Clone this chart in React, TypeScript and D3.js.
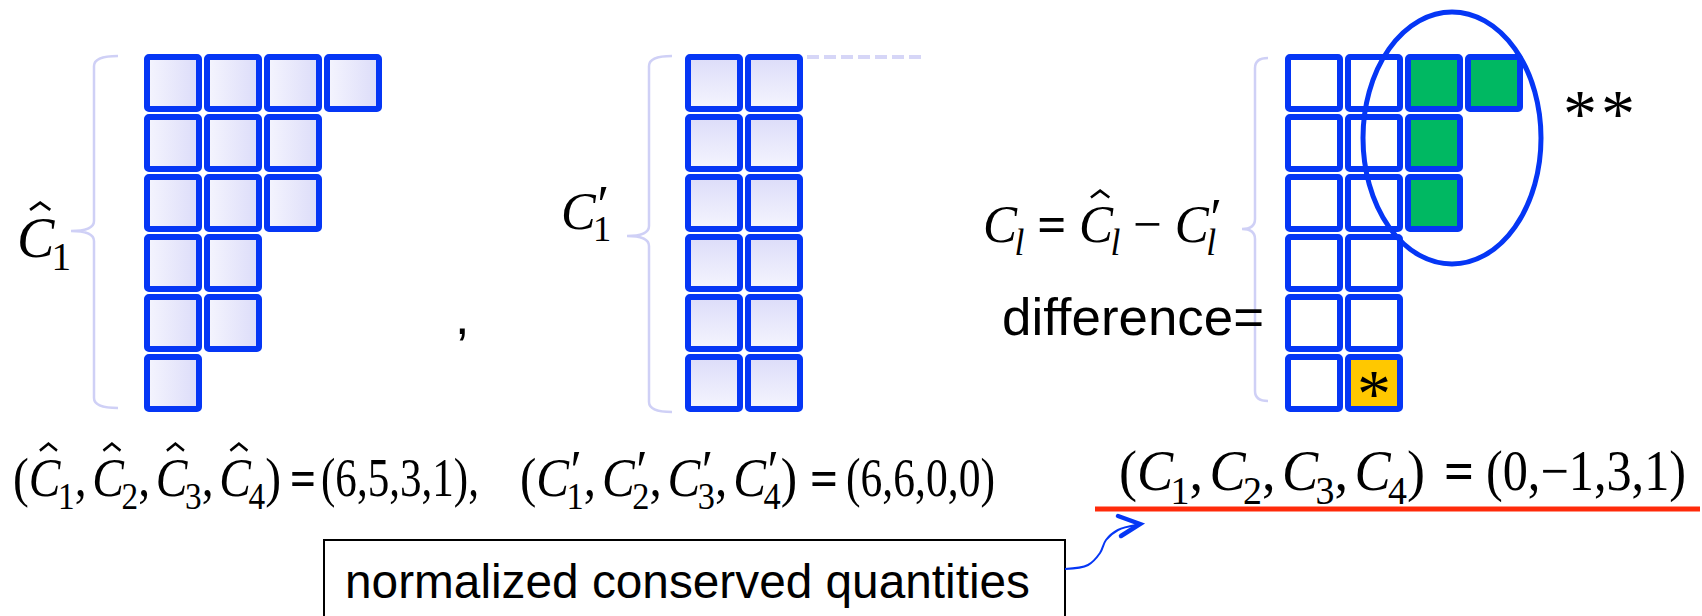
import React, { useEffect, useRef } from "react";
import * as d3 from "d3";

const W = 1702;
const H = 616;

// column lengths of the diagrams
const hatC = [6, 5, 3, 1];
const primeC = [6, 6, 0, 0];
const diffC = [0, -1, 3, 1];
const nRows = 6;
const nCols = 4;

const boxLabel = "normalized conserved quantities";
const diffLabel = "difference=";

const BLUE = "#0536f5";
const GREEN = "#00b862";
const YELLOW = "#ffc800";
const BRACE = "#cfd0f6";
const SERIF = "'Liberation Serif', 'Times New Roman', serif";
const SANS = "'Liberation Sans', Arial, sans-serif";

type Tok = {
  t: string;
  it?: boolean;
  hat?: boolean;
  prime?: boolean;
  sub?: string;
  subIt?: boolean;
  bold?: boolean;
  gap?: number;
};

function fmtVal(v: number) {
  return v < 0 ? "\u2212" + Math.abs(v) : String(v);
}

export default function App() {
  const ref = useRef<SVGSVGElement>(null);

  useEffect(() => {
    const svg = d3.select(ref.current as SVGSVGElement);
    svg.selectAll("*").remove();
    const defs = svg.append("defs");

    const gh = defs.append("linearGradient").attr("id", "gradH").attr("x1", 0).attr("y1", 0).attr("x2", 1).attr("y2", 0);
    gh.append("stop").attr("offset", 0).attr("stop-color", "#f5f5fe");
    gh.append("stop").attr("offset", 1).attr("stop-color", "#dcdcf9");
    const gv = defs.append("linearGradient").attr("id", "gradV").attr("x1", 0).attr("y1", 0).attr("x2", 0).attr("y2", 1);
    gv.append("stop").attr("offset", 0).attr("stop-color", "#dcdcf9");
    gv.append("stop").attr("offset", 1).attr("stop-color", "#f5f5fe");

    const rowY = d3.scaleLinear().domain([0, nRows]).range([54, 54 + 60 * nRows]);
    const OUT = 58;
    const SW = 6;

    // ---- braces
    function brace(xv: number, xEnd: number, xTip: number, top: number, mid: number, bottom: number) {
      const r = 10;
      const p = d3.path();
      p.moveTo(xEnd, top);
      p.quadraticCurveTo(xv, top, xv, top + r);
      p.lineTo(xv, mid - r);
      p.quadraticCurveTo(xv, mid, xTip, mid);
      p.quadraticCurveTo(xv, mid, xv, mid + r);
      p.lineTo(xv, bottom - r);
      p.quadraticCurveTo(xv, bottom, xEnd, bottom);
      svg.append("path").attr("d", p.toString()).attr("fill", "none").attr("stroke", BRACE).attr("stroke-width", 2.5);
    }
    brace(94, 118, 71, 56, 231, 408);
    brace(649, 672, 627, 56, 236, 412);
    brace(1255, 1268, 1242, 58, 229, 401);

    // ---- tableaux
    function tableau(left: number, cells: { c: number; r: number; fill: string }[]) {
      const colX = d3.scaleLinear().domain([0, nCols]).range([left, left + 60 * nCols]);
      svg
        .append("g")
        .selectAll("rect")
        .data(cells)
        .join("rect")
        .attr("x", (d) => colX(d.c) + SW / 2)
        .attr("y", (d) => rowY(d.r) + SW / 2)
        .attr("width", OUT - SW)
        .attr("height", OUT - SW)
        .attr("rx", 2)
        .attr("fill", (d) => d.fill)
        .attr("stroke", BLUE)
        .attr("stroke-width", SW);
      return colX;
    }

    const cells1: { c: number; r: number; fill: string }[] = [];
    hatC.forEach((len, c) => d3.range(len).forEach((r) => cells1.push({ c, r, fill: "url(#gradH)" })));
    tableau(144, cells1);

    const cells2: { c: number; r: number; fill: string }[] = [];
    primeC.forEach((len, c) => d3.range(len).forEach((r) => cells2.push({ c, r, fill: "url(#gradV)" })));
    const colX2 = tableau(685, cells2);
    svg
      .append("line")
      .attr("x1", colX2(2) + 2)
      .attr("x2", colX2(4))
      .attr("y1", 57)
      .attr("y2", 57)
      .attr("stroke", "#d6d6f7")
      .attr("stroke-width", 4)
      .attr("stroke-dasharray", "12 5");

    const cells3: { c: number; r: number; fill: string }[] = [];
    hatC.forEach((h, c) => {
      const p = primeC[c];
      d3.range(Math.max(h, p)).forEach((r) => {
        const fill = r < Math.min(h, p) ? "#ffffff" : h > p ? GREEN : YELLOW;
        cells3.push({ c, r, fill });
      });
    });
    const colX3 = tableau(1285, cells3);

    // asterisk in the negative cell
    cells3
      .filter((d) => d.fill === YELLOW)
      .forEach((d) => {
        svg
          .append("text")
          .attr("x", colX3(d.c) + OUT / 2)
          .attr("y", rowY(d.r) + OUT / 2 + 33)
          .attr("text-anchor", "middle")
          .attr("font-family", SERIF)
          .attr("font-size", 68)
          .attr("fill", "#000")
          .text("*");
      });

    // ellipse around positive excess
    svg
      .append("ellipse")
      .attr("cx", 1452)
      .attr("cy", 138)
      .attr("rx", 89)
      .attr("ry", 126)
      .attr("fill", "none")
      .attr("stroke", BLUE)
      .attr("stroke-width", 5);

    svg
      .append("text")
      .attr("x", 1563)
      .attr("y", 136)
      .attr("font-family", SERIF)
      .attr("font-size", 68)
      .attr("letter-spacing", 4)
      .text("**");

    // ---- formula engine
    function formula(toks: Tok[], x0: number, y: number, fs: number, target?: number) {
      const g = svg.append("g");
      let x = x0;
      for (const tok of toks) {
        const t = g
          .append("text")
          .attr("x", x)
          .attr("y", y)
          .attr("font-family", SERIF)
          .attr("font-size", fs)
          .attr("font-style", tok.it ? "italic" : "normal")
          .attr("font-weight", tok.bold ? "bold" : "normal")
          .style("white-space", "pre")
          .text(tok.t);
        const w = (t.node() as SVGTextElement).getComputedTextLength();
        if (tok.hat) {
          const cx = x + w * 0.62;
          const top = y - fs * 0.97;
          const hw = fs * 0.18;
          const hh = fs * 0.13;
          g.append("path")
            .attr("d", `M${cx - hw},${top + hh} L${cx},${top} L${cx + hw},${top + hh}`)
            .attr("fill", "none")
            .attr("stroke", "#000")
            .attr("stroke-width", fs * 0.05)
            .attr("stroke-linejoin", "miter");
        }
        const nx = x + w;
        let adv = 0;
        if (tok.prime) {
          const px = nx + fs * 0.03;
          const p = g
            .append("text")
            .attr("x", px)
            .attr("y", y - fs * 0.12)
            .attr("font-family", SERIF)
            .attr("font-size", fs * 1.05)
            .text("\u2032");
          adv = Math.max(adv, (p.node() as SVGTextElement).getComputedTextLength() + fs * 0.03);
        }
        if (tok.sub) {
          const tuck = fs * 0.05;
          const s = g
            .append("text")
            .attr("x", nx - tuck)
            .attr("y", y + fs * 0.24)
            .attr("font-family", SERIF)
            .attr("font-size", fs * 0.7)
            .attr("font-style", tok.subIt ? "italic" : "normal")
            .text(tok.sub);
          adv = Math.max(adv, (s.node() as SVGTextElement).getComputedTextLength() - tuck);
        }
        x = nx + adv + (tok.gap || 0) * fs;
      }
      if (target) {
        const s = target / (x - x0);
        g.attr("transform", `translate(${x0},0) scale(${s},1) translate(${-x0},0)`);
      }
    }

    function plain(str: string, x: number, y: number, fs: number, width?: number, bold?: boolean) {
      const t = svg
        .append("text")
        .attr("x", x)
        .attr("y", y)
        .attr("font-family", SERIF)
        .attr("font-size", fs)
        .attr("font-weight", bold ? "bold" : "normal")
        .text(str);
      if (width) t.attr("textLength", width).attr("lengthAdjust", "spacingAndGlyphs");
    }

    // labels
    formula([{ t: "C", it: true, hat: true, sub: "1" }], 17, 257, 56);
    formula([{ t: "C", it: true, prime: true, sub: "1" }], 561, 229, 52);
    formula(
      [
        { t: "C", it: true, sub: "l", subIt: true },
        { t: " = ", bold: true },
        { t: "C", it: true, hat: true, sub: "l", subIt: true },
        { t: " \u2212 " },
        { t: "C", it: true, prime: true, sub: "l", subIt: true },
      ],
      983,
      242,
      53,
      239
    );

    svg
      .append("text")
      .attr("x", 1002)
      .attr("y", 335)
      .attr("font-family", SANS)
      .attr("font-size", 52)
      .attr("textLength", 262)
      .attr("lengthAdjust", "spacingAndGlyphs")
      .text(diffLabel);

    svg.append("text").attr("x", 455).attr("y", 334).attr("font-family", SANS).attr("font-size", 52).text(",");

    // tuples
    const tupleToks = (kind: "hat" | "prime" | "plain") => {
      const toks: Tok[] = [{ t: "(" }];
      d3.range(nCols).forEach((i) => {
        toks.push({ t: "C", it: true, hat: kind === "hat", prime: kind === "prime", sub: String(i + 1) });
        if (i < nCols - 1) toks.push({ t: ",", gap: 0.12 });
      });
      toks.push({ t: ")" });
      return toks;
    };
    // (Ĉ1..Ĉ4) = (6,5,3,1),
    formula(tupleToks("hat"), 13, 496, 54, 268);
    plain("=", 290, 496, 52, 26, true);
    plain("(" + hatC.map(fmtVal).join(",") + "),", 321, 496, 54, 158);
    // (C'1..C'4) = (6,6,0,0)
    formula(tupleToks("prime"), 520, 496, 54, 277);
    plain("=", 810, 496, 52, 28, true);
    plain("(" + primeC.map(fmtVal).join(",") + ")", 846, 496, 54, 149);
    // (C1..C4) = (0,-1,3,1)
    formula(tupleToks("plain"), 1119, 490, 57, 306);
    plain("=", 1444, 490, 56, 30, true);
    plain("(" + diffC.map(fmtVal).join(",") + ")", 1486, 490, 57, 200);

    // red underline
    svg
      .append("line")
      .attr("x1", 1095)
      .attr("x2", 1700)
      .attr("y1", 509)
      .attr("y2", 509)
      .attr("stroke", "#ff2a0a")
      .attr("stroke-width", 5);

    // box with label
    svg
      .append("rect")
      .attr("x", 324)
      .attr("y", 540)
      .attr("width", 741)
      .attr("height", 110)
      .attr("fill", "#fff")
      .attr("stroke", "#000")
      .attr("stroke-width", 2);
    svg
      .append("text")
      .attr("x", 345)
      .attr("y", 598)
      .attr("font-family", SANS)
      .attr("font-size", 48)
      .attr("textLength", 685)
      .attr("lengthAdjust", "spacingAndGlyphs")
      .text(boxLabel);

    // connector arrow
    const conn = d3.line().curve(d3.curveCatmullRom.alpha(0.5));
    svg
      .append("path")
      .attr(
        "d",
        conn([
          [1065, 569],
          [1088, 565],
          [1100, 553],
          [1106, 540],
          [1118, 530],
          [1136, 525],
        ]) as string
      )
      .attr("fill", "none")
      .attr("stroke", BLUE)
      .attr("stroke-width", 2);
    svg
      .append("path")
      .attr("d", "M1118,516 L1140,524 L1121,536")
      .attr("fill", "none")
      .attr("stroke", BLUE)
      .attr("stroke-width", 4.5)
      .attr("stroke-linecap", "round");
  }, []);

  return (
    <svg
      ref={ref}
      width={W}
      height={H}
      viewBox={`0 0 ${W} ${H}`}
      style={{ position: "absolute", left: 0, top: 0, background: "#fff" }}
    />
  );
}
